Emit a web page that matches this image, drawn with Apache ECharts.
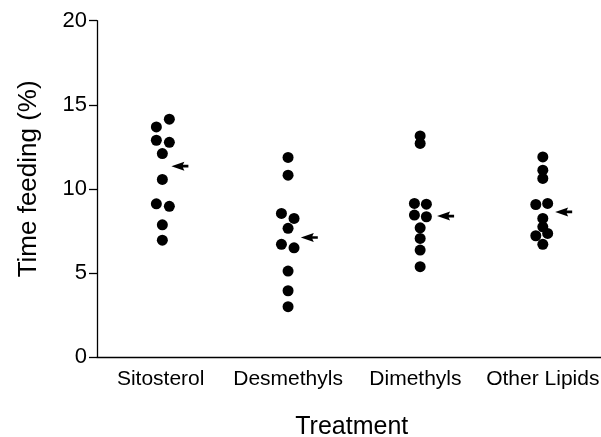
<!DOCTYPE html>
<html>
<head>
<meta charset="utf-8">
<script src="https://cdn.jsdelivr.net/npm/echarts@6/dist/echarts.min.js"></script>
<style>
  html, body { margin: 0; padding: 0; background: #fff; }
  #chart { width: 601px; height: 437px; }
</style>
</head>
<body>
<div id="chart"></div>
<script>
// Treatment groups shown along the x axis
const categories = ['Sitosterol', 'Desmethyls', 'Dimethyls', 'Other Lipids'];

// Time feeding (%) for each individual, per treatment
const sitosterolValues = [14.14, 13.68, 12.89, 12.77, 12.10, 10.56, 9.11, 8.96, 7.86, 6.95];
const desmethylsValues = [11.87, 10.81, 8.54, 8.24, 7.65, 6.70, 6.49, 5.11, 3.94, 2.99];
const dimethylsValues  = [13.15, 12.70, 9.13, 9.09, 8.44, 8.34, 7.68, 7.05, 6.36, 5.37];
const otherLipidValues = [11.90, 11.11, 10.62, 9.07, 9.13, 8.24, 7.74, 7.35, 7.21, 6.70];

// Horizontal spread of the points within each column (category units)
const sitosterolSpread = [0.068, -0.034, -0.034, 0.068, 0.013, 0.013, -0.034, 0.068, 0.013, 0.013];
const desmethylsSpread = [0, 0, -0.052, 0.047, 0, -0.052, 0.047, 0, 0, 0];
const dimethylsSpread  = [0.037, 0.037, -0.008, 0.086, -0.008, 0.086, 0.037, 0.037, 0.037, 0.037];
const otherLipidSpread = [0, 0, 0, -0.055, 0.038, 0, 0, 0.038, -0.055, 0];

// Group means marked by arrows, and the arrow tip offset from each column
const meanValues = [11.35, 7.11, 8.38, 8.63];
const meanArrowOffset = [0.084, 0.10, 0.17, 0.097];

// Y axis ticks
const yTicks = [0, 5, 10, 15, 20];

const groupValues = [sitosterolValues, desmethylsValues, dimethylsValues, otherLipidValues];
const groupSpread = [sitosterolSpread, desmethylsSpread, dimethylsSpread, otherLipidSpread];

const points = [];
groupValues.forEach((vals, gi) => {
  vals.forEach((v, i) => points.push([gi + groupSpread[gi][i], v]));
});
const arrows = meanValues.map((v, gi) => [gi + meanArrowOffset[gi], v]);

const FONT = 'Liberation Sans, Arial, Helvetica, sans-serif';
const INK = '#000';

const chart = echarts.init(document.getElementById('chart'), null, { renderer: 'canvas' });
chart.setOption({
  animation: false,
  backgroundColor: '#fff',
  grid: {
    left: 97, right: -5.5, top: 20.7, bottom: 80,
    containLabel: false,
    outerBoundsMode: 'none'
  },
  xAxis: [
    {
      type: 'category',
      data: categories,
      boundaryGap: true,
      axisLine: { onZero: false, lineStyle: { color: INK, width: 1.3 } },
      axisTick: { alignWithLabel: true, length: 6, lineStyle: { color: INK, width: 1.3 } },
      axisLabel: { color: INK, fontFamily: FONT, fontSize: 21, margin: 12, interval: 0 },
      splitLine: { show: false },
      name: 'Treatment',
      nameLocation: 'middle',
      nameGap: 58,
      nameTextStyle: { color: INK, fontFamily: FONT, fontSize: 25 }
    },
    {
      type: 'value',
      min: -0.5,
      max: 3.5,
      show: false
    }
  ],
  yAxis: {
    type: 'value',
    min: yTicks[0],
    max: yTicks[yTicks.length - 1],
    interval: yTicks[1] - yTicks[0],
    axisLine: { show: true, onZero: false, lineStyle: { color: INK, width: 1.3 } },
    axisTick: { show: true, length: 8, lineStyle: { color: INK, width: 1.3 } },
    axisLabel: { color: INK, fontFamily: FONT, fontSize: 22, margin: 10 },
    splitLine: { show: false },
    name: 'Time feeding (%)',
    nameLocation: 'middle',
    nameGap: 55,
    nameTextStyle: { color: INK, fontFamily: FONT, fontSize: 26, padding: [0, 0, 0, 20] }
  },
  series: [
    {
      type: 'scatter',
      xAxisIndex: 1,
      data: points,
      symbol: 'circle',
      symbolSize: 11,
      itemStyle: { color: '#000', opacity: 1 },
      silent: true
    },
    {
      type: 'scatter',
      xAxisIndex: 1,
      data: arrows,
      // arrowhead pointing left with a short stub tail
      symbol: 'path://M0,4.5 L13,0 L11.5,3.2 L17,3.2 L17,5.8 L11.5,5.8 L13,9 Z',
      symbolSize: [17, 9],
      symbolOffset: ['50%', 0],
      itemStyle: { color: '#000', opacity: 1 },
      silent: true
    }
  ]
});
</script>
</body>
</html>
